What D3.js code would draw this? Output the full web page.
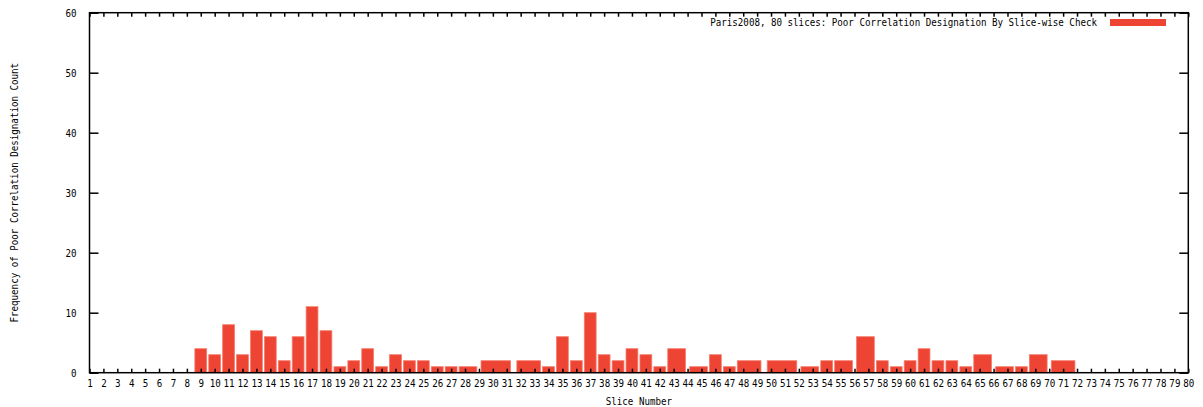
<!DOCTYPE html>
<html>
<head>
<meta charset="utf-8">
<script src="https://cdn.jsdelivr.net/npm/d3@7"></script>
<style>
  html, body { margin: 0; padding: 0; background: #fff; }
  svg { display: block; }
  text { font-family: "DejaVu Sans Mono", "Liberation Mono", monospace; font-size: 11px; fill: #000; }
</style>
</head>
<body>
<svg id="chart" width="1203" height="407"></svg>
<script>
// ---- data (zero-count slices are absent, as in the source file) ----
const slices = [9,10,11,12,13,14,15,16,17,18,19,20,21,22,23,24,25,26,27,28,
                30,33,34,35,36,37,38,39,40,41,42,43,45,46,47,48,51,53,54,55,
                57,58,59,60,61,62,63,64,65,67,68,69,71];
const counts = [4,3,8,3,7,6,2,6,11,7,1,2,4,1,3,2,2,1,1,1,
                2,2,1,6,2,10,3,2,4,3,1,4,1,3,1,2,2,1,2,2,
                6,2,1,2,4,2,2,1,3,1,1,3,2];
const xTickLabels = d3.range(1, 81);
const yTickValues = [0, 10, 20, 30, 40, 50, 60];
const seriesName = "Paris2008, 80 slices: Poor Correlation Designation By Slice-wise Check";
const xTitle = "Slice Number";
const yTitle = "Frequency of Poor Correlation Designation Count";

// ---- layout ----
const svg = d3.select("#chart");
const pL = 89.5, pR = 1188.3, pT = 12.7, pB = 372.7;
const x = d3.scaleLinear().domain([1, 80]).range([pL, pR]);
const y = d3.scaleLinear().domain([0, 60]).range([pB, pT]);
const barColor = "#ee4433";
const relWidth = 0.85;
const sx = 0.835; // horizontal squeeze for the narrow bitmap-like font

// boxes: each box extends toward its neighbours (gnuplot auto box width, relative)
const data = slices.map((s, i) => ({ s, v: counts[i] }));
data.forEach((d, i) => {
  const prev = i > 0 ? data[i - 1].s : null;
  const next = i < data.length - 1 ? data[i + 1].s : null;
  let dl = prev !== null ? (d.s - prev) / 2 : null;
  let dr = next !== null ? (next - d.s) / 2 : null;
  if (dl === null) dl = dr;
  if (dr === null) dr = dl;
  d.x0 = d.s - dl * relWidth;
  d.x1 = d.s + dr * relWidth;
});

// bars
svg.append("g").selectAll("rect").data(data).join("rect")
  .attr("x", d => x(d.x0))
  .attr("width", d => x(d.x1) - x(d.x0))
  .attr("y", d => y(d.v))
  .attr("height", d => y(0) - y(d.v))
  .attr("fill", barColor)
  .attr("stroke", "#f47d6e")
  .attr("stroke-width", 0.8);

// axes (gnuplot style: inward ticks, mirrored)
const xAxisB = d3.axisBottom(x).tickValues(xTickLabels).tickSize(-4).tickPadding(8).tickFormat(d3.format("d"));
const xAxisT = d3.axisTop(x).tickValues(xTickLabels).tickSize(-4).tickFormat("");
const yAxisL = d3.axisLeft(y).tickValues(yTickValues).tickSize(-9).tickPadding(13);
const yAxisR = d3.axisRight(y).tickValues(yTickValues).tickSize(-9).tickFormat("");

function style(g) {
  g.select(".domain").remove();
  g.selectAll(".tick line").attr("stroke", "#000").attr("stroke-width", 1.5);
  g.selectAll(".tick text").attr("font-family", null).attr("font-size", null);
}
const gxB = svg.append("g").attr("transform", `translate(0,${pB})`).call(xAxisB).call(style);
gxB.selectAll(".tick text")
  .attr("dy", null).attr("y", 14).attr("x", 0)
  .attr("text-anchor", "middle")
  .attr("transform", `scale(${sx},1)`);
svg.append("g").attr("transform", `translate(0,${pT})`).call(xAxisT).call(style);
const gyL = svg.append("g").attr("transform", `translate(${pL},0)`).call(yAxisL).call(style);
gyL.selectAll(".tick text").attr("x", -13 / sx).attr("dy", "0.33em").attr("transform", `scale(${sx},1)`);
svg.append("g").attr("transform", `translate(${pR},0)`).call(yAxisR).call(style);

// frame
svg.append("rect")
  .attr("x", pL).attr("y", pT)
  .attr("width", pR - pL).attr("height", pB - pT)
  .attr("fill", "none").attr("stroke", "#000").attr("stroke-width", 1.5);

// titles
svg.append("text")
  .attr("transform", `translate(${(pL + pR) / 2},405) scale(${sx},1)`)
  .attr("text-anchor", "middle").text(xTitle);
svg.append("text")
  .attr("transform", `translate(18,${(pT + pB) / 2}) rotate(-90) scale(${sx},1)`)
  .attr("text-anchor", "middle").text(yTitle);

// legend
svg.append("text")
  .attr("transform", `translate(1097,26) scale(${sx},1)`)
  .attr("text-anchor", "end").text(seriesName);
svg.append("rect")
  .attr("x", 1110).attr("y", 19).attr("width", 56).attr("height", 7)
  .attr("fill", barColor);
</script>
</body>
</html>
